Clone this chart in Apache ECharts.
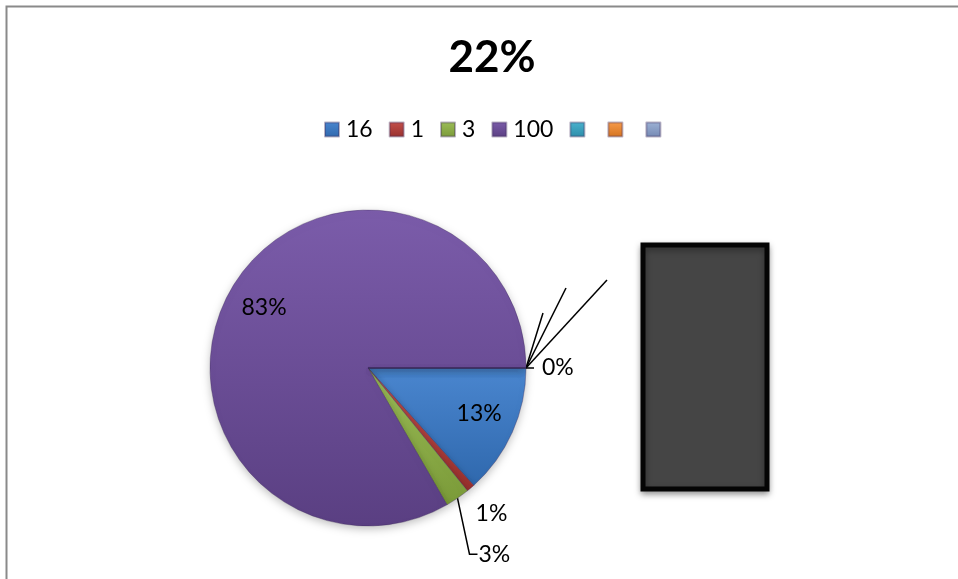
<!DOCTYPE html>
<html>
<head>
<meta charset="utf-8">
<script src="https://cdn.jsdelivr.net/npm/echarts@6/dist/echarts.min.js"></script>
<style>
  html, body { margin: 0; padding: 0; background: #fff; }
  #chart { width: 958px; height: 579px; }
</style>
</head>
<body>
<div id="chart"></div>
<script>
// Slice names (the last three are blank entries) and their values
const names = ['16', '1', '3', '100', ' ', '  ', '   '];
const values = [16, 1, 3, 100, 0, 0, 0];
const titleText = '22%';

// Palette: [light, dark] pairs for each slice
const palette = [
  ['#4a86cf', '#2f68ad'],
  ['#c4504c', '#98302d'],
  ['#9cbd58', '#7a9a38'],
  ['#7b5caa', '#5a3f82'],
  ['#4bb3cf', '#2c8ca8'],
  ['#f89c4c', '#d3731f'],
  ['#9eb2d6', '#7489b3']
];

const cx = 368, cy = 368, R = 158;
const total = values.reduce((a, b) => a + b, 0);

function grad(c) {
  return new echarts.graphic.LinearGradient(0, 0, 0, 1, [
    { offset: 0, color: c[0] },
    { offset: 1, color: c[1] }
  ]);
}

function pct(v) { return Math.round(v / total * 100) + '%'; }

// Mid angle (radians, clockwise from 3 o'clock) of each slice
const midAngles = [];
(function () {
  let acc = 0;
  values.forEach(v => {
    midAngles.push((acc + v / 2) / total * Math.PI * 2);
    acc += v;
  });
})();

function polar(r, a) { return [cx + r * Math.cos(a), cy + r * Math.sin(a)]; }

const chart = echarts.init(document.getElementById('chart'), null, { renderer: 'canvas' });

const font = 'Lato, "Liberation Sans", sans-serif';

// Slices whose labels sit without a leader line
const noLine = [0, 1, 3];

chart.setOption({
  animation: false,
  title: {
    text: titleText,
    left: 487,
    top: 31,
    textAlign: 'center',
    textStyle: { fontFamily: font, fontWeight: 'bold', fontSize: 44, color: '#000' }
  },
  legend: {
    top: 118,
    left: 324,
    padding: 0,
    itemWidth: 14,
    itemHeight: 14,
    itemGap: 16,
    icon: 'rect',
    data: names,
    formatter: n => (n.trim() ? n : '\u200b'),
    textStyle: { fontFamily: font, fontSize: 23, color: '#000', padding: [0, 0, 0, 2] },
    selectedMode: false
  },
  graphic: [
    {
      type: 'rect',
      shape: { x: 6.5, y: 6.5, width: 2000, height: 2000 },
      style: { fill: 'none', stroke: '#8a8a8a', lineWidth: 2 },
      silent: true
    },
    {
      type: 'rect',
      shape: { x: 643, y: 245, width: 124, height: 244 },
      style: {
        fill: '#454545', stroke: '#050505', lineWidth: 5,
        shadowBlur: 6, shadowColor: 'rgba(0,0,0,0.35)', shadowOffsetY: 3
      },
      z: 10
    }
  ],
  series: [{
    type: 'pie',
    center: [cx, cy],
    radius: [0, R],
    startAngle: 0,
    clockwise: true,
    avoidLabelOverlap: false,
    stillShowZeroSum: true,
    minShowLabelAngle: 0,
    data: names.map((n, i) => ({
      name: n,
      value: values[i],
      itemStyle: { color: grad(palette[i]) },
      labelLine: { show: noLine.indexOf(i) < 0 }
    })),
    itemStyle: {
      borderColor: 'rgba(60,40,90,0.35)',
      borderWidth: 1,
      shadowBlur: 8,
      shadowColor: 'rgba(0,0,0,0.25)',
      shadowOffsetY: 3
    },
    label: {
      show: true,
      position: 'outside',
      fontFamily: font,
      fontSize: 23,
      color: '#000',
      formatter: p => {
        if (p.dataIndex === 5 || p.dataIndex === 6) return '';
        return pct(p.value);
      }
    },
    labelLine: {
      show: true,
      length: 10,
      length2: 10,
      lineStyle: { color: '#000', width: 1.5 }
    },
    labelLayout: function (p) {
      const i = p.dataIndex;
      const edge = polar(R, 0);
      if (i === 0 || i === 3) {
        // inner labels at three quarters of the radius
        const pt = polar(R * 0.76, midAngles[i] - (i === 0 ? 0.03 : 0));
        return { x: pt[0], y: pt[1], align: 'center', verticalAlign: 'middle' };
      }
      if (i === 1) {
        const pt = polar(R, midAngles[i]);
        return { x: pt[0] + 5, y: pt[1] + 25, align: 'left', verticalAlign: 'middle' };
      }
      if (i === 2) {
        const s = polar(R, midAngles[i]);
        return {
          x: s[0] + 21, y: s[1] + 56, align: 'left', verticalAlign: 'middle',
          labelLinePoints: [s, [s[0] + 12, s[1] + 56], [s[0] + 20, s[1] + 56]]
        };
      }
      if (i === 4) {
        return {
          x: edge[0] + 16, y: edge[1], align: 'left', verticalAlign: 'middle',
          labelLinePoints: [[edge[0] + 17, edge[1] - 55], edge, [edge[0] + 8, edge[1]]]
        };
      }
      if (i === 5) {
        const e = [edge[0] + 40, edge[1] - 80];
        return { x: e[0], y: e[1], align: 'left', verticalAlign: 'middle', labelLinePoints: [edge, e, e] };
      }
      if (i === 6) {
        const e = [edge[0] + 81, edge[1] - 88];
        return { x: e[0], y: e[1], align: 'left', verticalAlign: 'middle', labelLinePoints: [edge, e, e] };
      }
    }
  }]
});
</script>
</body>
</html>
